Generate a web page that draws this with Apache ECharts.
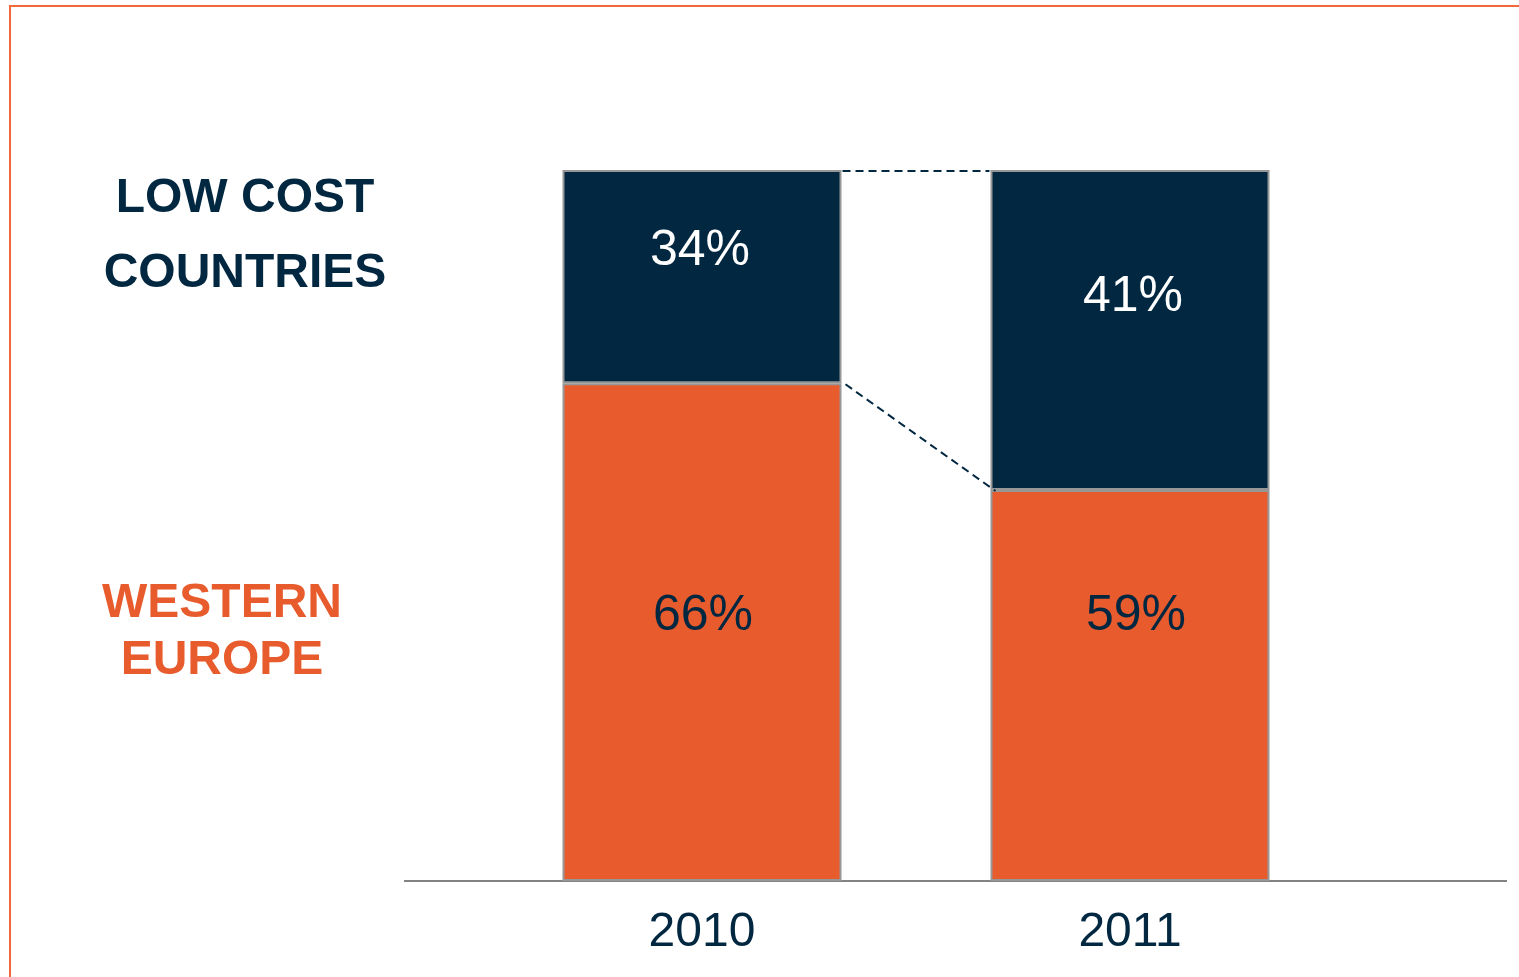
<!DOCTYPE html>
<html>
<head>
<meta charset="utf-8">
<script src="https://cdn.jsdelivr.net/npm/echarts@6/dist/echarts.min.js"></script>
<style>
  html, body { margin: 0; padding: 0; background: #fff; }
  #chart { width: 1519px; height: 977px; }
  #frame {
    position: absolute; left: 9px; top: 5px; right: 0; bottom: 0;
    border-top: 2px solid #f26a3b; border-left: 2px solid #f26a3b;
    pointer-events: none;
  }
</style>
</head>
<body>
<div id="chart"></div>
<div id="frame"></div>
<script>
const years = ['2010', '2011'];
// bar heights as drawn in the picture (share of 100)
const westernEurope = [70, 55];
const lowCost = [30, 45];
// printed labels
const westernLabels = ['66%', '59%'];
const lowCostLabels = ['34%', '41%'];

const NAVY = '#012741';
const ORANGE = '#e85b2c';
const BAR_W = 279;
const FONT = '"Liberation Sans", Arial, Helvetica, sans-serif';

// nudges for the value labels, the picture doesn't centre them
const westernLabelOff = [[1, -16], [6, -69]];
const lowCostLabelOff = [[-2, -25], [3, -33]];

const chart = echarts.init(document.getElementById('chart'));

const sideText = (txt, x, y, color) => ({
  type: 'text', x: x, y: y,
  style: { text: txt, fill: color, font: 'bold 48px ' + FONT, textAlign: 'center', textVerticalAlign: 'middle' }
});

const option = {
  animation: false,
  grid: { left: 488, right: 175, top: 170, bottom: 96 },
  xAxis: {
    type: 'category',
    data: years,
    axisLine: { show: false },
    axisTick: { show: false },
    axisLabel: { color: NAVY, fontSize: 48, fontFamily: FONT, margin: 28 }
  },
  yAxis: {
    type: 'value', min: 0, max: 100,
    show: false, splitLine: { show: false }
  },
  graphic: [
    { type: 'line', shape: { x1: 404, y1: 881, x2: 1507, y2: 881 },
      style: { stroke: '#5a5a5a', lineWidth: 1.5 }, z: 1 },
    sideText('LOW COST', 245, 199, NAVY),
    sideText('COUNTRIES', 245, 274, NAVY),
    sideText('WESTERN', 222, 604, ORANGE),
    sideText('EUROPE', 222, 661, ORANGE)
  ],
  series: [
    {
      name: 'Western Europe',
      type: 'bar',
      stack: 'share',
      barWidth: BAR_W,
      data: westernEurope.map((v, i) => ({
        value: v,
        label: { formatter: westernLabels[i], offset: westernLabelOff[i] }
      })),
      itemStyle: { color: ORANGE, borderColor: '#979797', borderWidth: 2 },
      label: { show: true, position: 'inside', color: NAVY, fontSize: 50, fontFamily: FONT }
    },
    {
      name: 'Low cost countries',
      type: 'bar',
      stack: 'share',
      barWidth: BAR_W,
      data: lowCost.map((v, i) => ({
        value: v,
        label: { formatter: lowCostLabels[i], offset: lowCostLabelOff[i] }
      })),
      itemStyle: { color: NAVY, borderColor: '#979797', borderWidth: 2 },
      label: { show: true, position: 'inside', color: '#fff', fontSize: 50, fontFamily: FONT }
    },
    {
      // dashed connectors between the two bars
      type: 'custom',
      silent: true,
      z: 5,
      data: [[0, 100]],
      renderItem: function (params, api) {
        const half = BAR_W / 2;
        const a = api.coord([0, 100]);
        const b = api.coord([1, 100]);
        const c = api.coord([0, westernEurope[0]]);
        const d = api.coord([1, westernEurope[1]]);
        const st = { stroke: NAVY, lineWidth: 2, lineDash: [8, 5] };
        return {
          type: 'group',
          children: [
            { type: 'line', shape: { x1: a[0] + half + 1, y1: a[1] + 1, x2: b[0] - half - 1, y2: b[1] + 1 }, style: st },
            { type: 'line', shape: { x1: c[0] + half + 4, y1: c[1] + 1, x2: d[0] - half + 5, y2: d[1] + 1 }, style: st }
          ]
        };
      }
    }
  ]
};

chart.setOption(option);
</script>
</body>
</html>
